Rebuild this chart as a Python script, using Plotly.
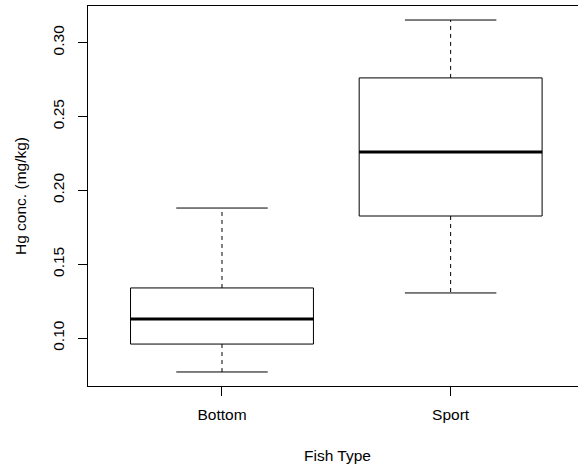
import plotly.graph_objects as go

categories = ["Bottom", "Sport"]
positions = [1, 2]
lower_whisker = [0.0770, 0.1305]
q1_vals = [0.0959, 0.1826]
median_vals = [0.1129, 0.2260]
q3_vals = [0.1339, 0.2761]
upper_whisker = [0.1880, 0.3153]
y_ticks = [0.10, 0.15, 0.20, 0.25, 0.30]
y_ticktext = ["0.10", "0.15", "0.20", "0.25", "0.30"]

BOXWEX = 0.8
CAP = BOXWEX / 2
FONT = "Liberation Sans, Arial, sans-serif"

fig = go.Figure()

for i, cat in enumerate(categories):
    x = positions[i]
    fig.add_trace(go.Box(
        x=[x], q1=[q1_vals[i]], median=[median_vals[i]], q3=[q3_vals[i]],
        lowerfence=[q1_vals[i]], upperfence=[q3_vals[i]],
        width=BOXWEX, fillcolor="white",
        line=dict(color="black", width=1), whiskerwidth=0,
        showlegend=False, hoverinfo="skip", boxpoints=False,
    ))
    # dashed whiskers
    fig.add_trace(go.Scatter(
        x=[x, x, None, x, x],
        y=[q3_vals[i], upper_whisker[i], None, q1_vals[i], lower_whisker[i]],
        mode="lines", line=dict(color="black", width=1, dash="4px,4px"),
        showlegend=False, hoverinfo="skip",
    ))
    # caps
    fig.add_trace(go.Scatter(
        x=[x - CAP / 2, x + CAP / 2, None, x - CAP / 2, x + CAP / 2],
        y=[upper_whisker[i], upper_whisker[i], None, lower_whisker[i], lower_whisker[i]],
        mode="lines", line=dict(color="black", width=1),
        showlegend=False, hoverinfo="skip",
    ))
    # thick median
    fig.add_trace(go.Scatter(
        x=[x - BOXWEX / 2, x + BOXWEX / 2],
        y=[median_vals[i], median_vals[i]],
        mode="lines", line=dict(color="black", width=3),
        showlegend=False, hoverinfo="skip",
    ))

fig.update_layout(
    width=578, height=466,
    margin=dict(l=88, r=0, t=6, b=80),
    paper_bgcolor="white", plot_bgcolor="white",
    font=dict(family=FONT, size=15.5, color="black"),
    xaxis=dict(
        range=[0.414, 2.557], tickvals=positions, ticktext=categories,
        showgrid=False, zeroline=False, showline=True, mirror=True,
        linecolor="black", linewidth=1,
        ticks="outside", ticklen=9, tickcolor="black", tickwidth=1,
        ticklabelstandoff=5,
    ),
    yaxis=dict(
        range=[0.0675, 0.3248], tickvals=y_ticks, ticktext=y_ticktext,
        showgrid=False, zeroline=False, showline=True, mirror=False,
        linecolor="black", linewidth=1,
        ticks="outside", ticklen=9, tickcolor="black", tickwidth=1,
        tickangle=-90, ticklabelstandoff=8,
    ),
    annotations=[
        dict(text="Fish Type", xref="paper", yref="paper", x=(337 - 88) / 490,
             y=(386 - 455) / 380, showarrow=False, xanchor="center", yanchor="middle",
             font=dict(size=15.5)),
        dict(text="Hg conc. (mg/kg)", xref="paper", yref="paper", x=(20 - 88) / 490,
             y=0.5, showarrow=False, xanchor="center", yanchor="middle",
             textangle=-90, font=dict(size=15.5)),
    ],
)

fig.write_html("out.html", config={"displayModeBar": False},
               post_script="document.body.style.margin='0';")
